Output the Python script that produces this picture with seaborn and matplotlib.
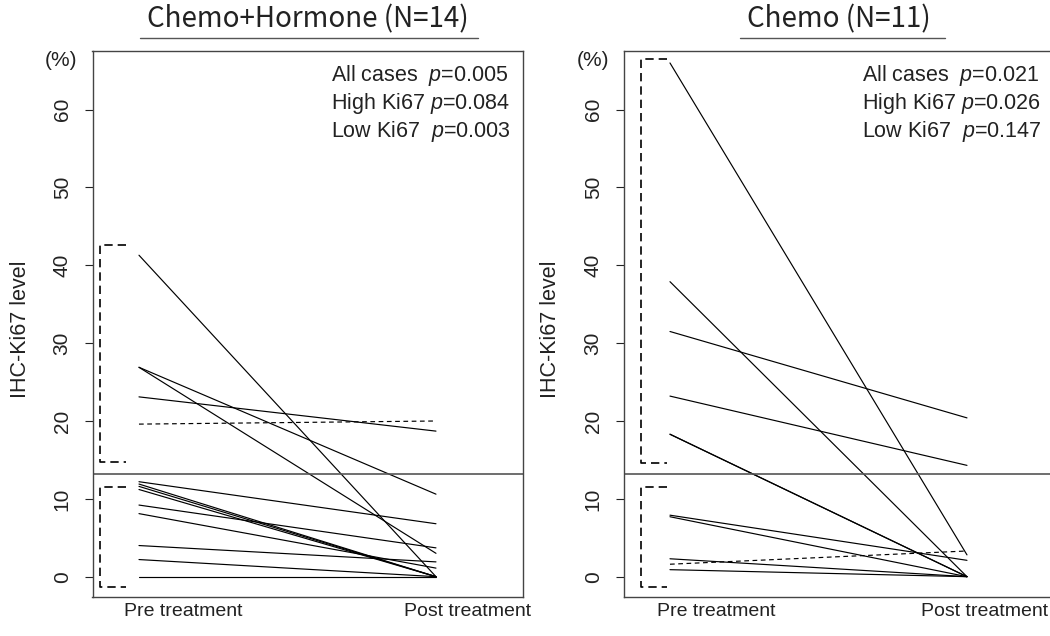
import numpy as np
import pandas as pd
import matplotlib
matplotlib.use("Agg")
import matplotlib.pyplot as plt
from matplotlib.lines import Line2D
import seaborn as sns

# ---------------- data ----------------
panel_titles = ["Chemo+Hormone (N=14)", "Chemo (N=11)"]
time_labels = ["Pre treatment", "Post treatment"]
y_ticks = [0, 10, 20, 30, 40, 50, 60]

pre_chemo_hormone = [41.3, 26.9, 26.9, 23.1, 19.6, 12.2, 11.9, 11.6, 11.2, 9.2, 8.1, 4.0, 2.2, 0.0]
post_chemo_hormone = [0.0, 10.6, 3.0, 18.7, 20.0, 6.8, 0.0, 0.0, 0.0, 3.7, 1.1, 1.9, 0.0, 0.0]
increase_chemo_hormone = [4]          # cases drawn dashed

pre_chemo = [66.0, 37.9, 31.5, 23.2, 18.3, 18.3, 7.9, 7.7, 2.3, 1.6, 0.9]
post_chemo = [2.8, 0.0, 20.4, 14.3, 0.0, 0.0, 2.1, 0.0, 0.0, 3.3, 0.0]
increase_chemo = [9]

cutoff = 13.2
high_group_chemo_hormone = (14.7, 42.6)
low_group_chemo_hormone = (-1.35, 11.55)
high_group_chemo = (14.65, 66.5)
low_group_chemo = (-1.3, 11.55)

p_groups = ["All cases  ", "High Ki67 ", "Low Ki67  "]
p_chemo_hormone = ["0.005", "0.084", "0.003"]
p_chemo = ["0.021", "0.026", "0.147"]

# ---------------- style ----------------
sns.set_theme(style="white")
plt.rcParams["font.family"] = ["Liberation Sans", "DejaVu Sans"]
plt.rcParams["mathtext.fontset"] = "custom"
plt.rcParams["mathtext.it"] = "Liberation Sans:italic"
plt.rcParams["mathtext.rm"] = "Liberation Sans"

W, H = 1050, 636
fig = plt.figure(figsize=(W / 100, H / 100), dpi=100)
fig.patch.set_facecolor("white")

box_w, box_h = 430.5, 546.8
box_bottom = 597.3
ax_left = [92.5, 623.5]
xtick_pos = [[1.15, 2.105], [1.155, 2.06]]

panels = [
    (pre_chemo_hormone, post_chemo_hormone, increase_chemo_hormone,
     high_group_chemo_hormone, low_group_chemo_hormone, p_chemo_hormone, (0.869, 0.956)),
    (pre_chemo, post_chemo, increase_chemo,
     high_group_chemo, low_group_chemo, p_chemo, (0.901, 0.989)),
]

for i, (pre, post, inc, hi, lo, pvals, brx) in enumerate(panels):
    ax = fig.add_axes([ax_left[i] / W, 1 - box_bottom / H, box_w / W, box_h / H])
    n = len(pre)
    df = pd.DataFrame({
        "case": np.repeat(np.arange(n), 2),
        "time": np.tile([1, 2], n),
        "value": np.ravel(np.column_stack([pre, post])),
    })
    solid = df[~df["case"].isin(inc)]
    dashed = df[df["case"].isin(inc)]
    sns.lineplot(data=solid, x="time", y="value", units="case", estimator=None,
                 color="black", lw=0.85, ax=ax, legend=False)
    n_before = len(ax.lines)
    sns.lineplot(data=dashed, x="time", y="value", units="case", estimator=None,
                 color="black", lw=0.85, ax=ax, legend=False)
    for ln in ax.lines[n_before:]:
        ln.set_linestyle((0, (4, 3)))

    # cutoff line
    ax.axhline(cutoff, color="#555555", lw=1.2)

    # dashed brackets for high / low groups
    for (b, t) in (hi, lo):
        ax.plot([brx[1], brx[0], brx[0], brx[1]], [t, t, b, b],
                color="black", lw=1.2, ls=(0, (5, 3)), solid_capstyle="butt")

    ax.set_xlim(0.8435, 2.293)
    ax.set_ylim(-2.65, 67.6)
    ax.set_xticks(xtick_pos[i])
    ax.set_xticklabels(time_labels, fontsize=14)
    ax.tick_params(axis="x", length=0, pad=4, colors="#222222")
    ax.set_yticks(y_ticks)
    ax.set_yticklabels([str(v) for v in y_ticks], fontsize=15)
    ax.tick_params(axis="y", length=6, width=0.8, pad=9, colors="#222222",
                   left=True, direction="out")
    plt.setp(ax.get_yticklabels(), rotation=90, va="center")
    ax.set_xlabel("")
    ax.set_ylabel("")
    for s in ax.spines.values():
        s.set_color("#444444")
        s.set_linewidth(1.0)
        s.set_visible(True)

    # p-value texts
    for k, (g, pv) in enumerate(zip(p_groups, pvals)):
        ypix = 76 + 27.5 * k
        ax.text(238.5 / box_w, (box_bottom - ypix) / box_h, g + "$p$=" + pv,
                transform=ax.transAxes, ha="left", va="center", fontsize=15.5,
                color="#222222")

    # y label and (%)
    x0 = ax_left[i]
    fig.text((x0 - 72.5) / W, 1 - 329 / H, "IHC-Ki67 level", rotation=90,
             ha="center", va="center", fontsize=15.5, color="#222222")
    fig.text((x0 - 31) / W, 1 - 61 / H, "(%)", ha="center", va="center",
             fontsize=15, color="#222222")

    # title
    cx = (x0 + box_w / 2) / W
    fig.text(cx, 1 - 19 / H, panel_titles[i], ha="center", va="center",
             fontsize=20, family=["Noto Sans CJK JP", "DejaVu Sans"], color="#222222")

# title underlines
fig.add_artist(Line2D([140 / W, 478 / W], [1 - 38 / H, 1 - 38 / H], color="#555555", lw=1.0))
fig.add_artist(Line2D([740 / W, 945 / W], [1 - 38 / H, 1 - 38 / H], color="#555555", lw=1.0))

fig.savefig("out.png", dpi=100, facecolor="white")
